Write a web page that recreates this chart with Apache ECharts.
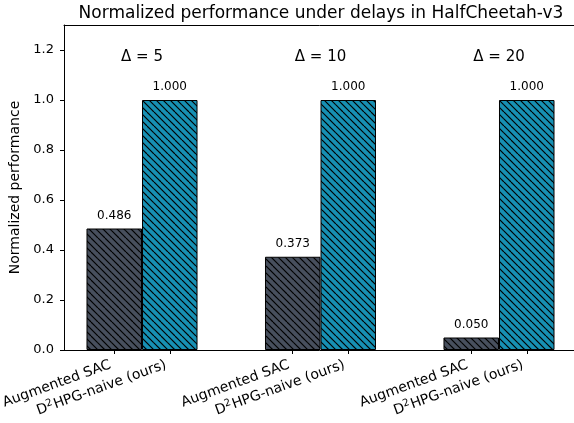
<!DOCTYPE html>
<html>
<head>
<meta charset="utf-8">
<script src="https://cdn.jsdelivr.net/npm/echarts@6/dist/echarts.min.js"></script>
<style>
  html, body { margin: 0; padding: 0; background: #fff; }
  #chart { width: 574px; height: 423px; }
</style>
</head>
<body>
<div id="chart"></div>
<script>
// Delay settings (one group per delay) and the two methods compared
const deltas = [5, 10, 20];
const methods = ['Augmented SAC', 'D2HPG-naive (ours)'];
const sacValues = [0.486, 0.373, 0.050];
const d2hpgValues = [1.000, 1.000, 1.000];
const yTicks = [0.0, 0.2, 0.4, 0.6, 0.8, 1.0, 1.2];

const FONT = 'DejaVu Sans';
const X_MIN = -0.437, X_MAX = 2.437;
const BAR_W = 0.311;            // bar width in x units
const GRID = { left: 64, right: -3, top: 25, bottom: 73 };
const plotWidth = 574 - GRID.left - GRID.right;
const pxPerUnit = plotWidth / (X_MAX - X_MIN);

// Hatched fill: base colour with "\\" diagonal black strokes
function hatch(base) {
  const step = 7, size = 14;
  const c = document.createElement('canvas');
  c.width = size; c.height = size;
  const g = c.getContext('2d');
  g.fillStyle = base;
  g.fillRect(0, 0, size, size);
  g.strokeStyle = '#000';
  g.lineWidth = 1.2;
  for (let k = -2 * size; k <= 2 * size; k += step) {
    g.beginPath();
    g.moveTo(k, 0);
    g.lineTo(k + size, size);
    g.stroke();
  }
  return { image: c, repeat: 'repeat' };
}

// Tick positions at the centre of every bar
const tickPos = [];
const tickNames = [];
deltas.forEach((d, i) => {
  tickPos.push(i - BAR_W / 2); tickNames.push(methods[0]);
  tickPos.push(i + BAR_W / 2); tickNames.push(methods[1]);
});

function tickLabel(v) {
  let best = 0;
  tickPos.forEach((p, i) => { if (Math.abs(p - v) < Math.abs(tickPos[best] - v)) best = i; });
  const name = tickNames[best];
  if (name.startsWith('D2')) return '{n|D}{sup|2}{e|' + name.slice(2) + '}';
  return '{e|' + name + '}';
}

function barSeries(name, values, color) {
  return {
    name: name,
    type: 'bar',
    barWidth: BAR_W * pxPerUnit,
    barGap: '0%',
    data: values.map((v, i) => [i, v]),
    itemStyle: { color: hatch(color), borderColor: '#000', borderWidth: 1 },
    label: {
      show: true, position: 'top', distance: 7,
      fontFamily: FONT, fontSize: 12, color: '#000',
      formatter: p => p.value[1].toFixed(3)
    },
    emphasis: { disabled: true }
  };
}

const chart = echarts.init(document.getElementById('chart'), null, { renderer: 'canvas' });
chart.setOption({
  animation: false,
  backgroundColor: '#fff',
  textStyle: { fontFamily: FONT },
  title: {
    text: 'Normalized performance under delays in HalfCheetah-v3',
    left: 316, top: 0, textAlign: 'center',
    textStyle: { fontFamily: FONT, fontSize: 17, fontWeight: 'normal', color: '#000' }
  },
  grid: Object.assign({ containLabel: false, outerBoundsMode: 'none' }, GRID),
  xAxis: [{
    type: 'value', min: X_MIN, max: X_MAX,
    axisLine: { show: true, onZero: false, lineStyle: { color: '#000', width: 1 } },
    axisTick: { show: true, length: 4, lineStyle: { color: '#000' }, customValues: tickPos },
    splitLine: { show: false },
    axisLabel: {
      customValues: tickPos,
      rotate: 20, margin: 13,
      formatter: tickLabel,
      rich: {
        n: { fontFamily: FONT, fontSize: 14, color: '#000' },
        e: { fontFamily: FONT, fontSize: 14, color: '#000', padding: [0, 4, 0, 0] },
        sup: { fontFamily: FONT, fontSize: 10, color: '#000', verticalAlign: 'top', padding: [0, 1, 7, 0] }
      }
    }
  }, {
    type: 'value', position: 'top', min: X_MIN, max: X_MAX,
    axisLine: { show: true, onZero: false, lineStyle: { color: '#000', width: 1 } },
    axisTick: { show: false }, axisLabel: { show: false }, splitLine: { show: false }
  }],
  yAxis: {
    type: 'value', min: 0, max: 1.3,
    name: 'Normalized performance', nameLocation: 'middle', nameGap: 40, nameRotate: 90,
    nameTextStyle: { fontFamily: FONT, fontSize: 14, color: '#000' },
    axisLine: { show: true, onZero: false, lineStyle: { color: '#000', width: 1 } },
    axisTick: { show: true, length: 4, lineStyle: { color: '#000' }, customValues: yTicks },
    splitLine: { show: false },
    axisLabel: {
      customValues: yTicks, margin: 10,
      fontFamily: FONT, fontSize: 13, color: '#000',
      formatter: v => v.toFixed(1)
    }
  },
  series: [
    barSeries(methods[0], sacValues, '#474f5d'),
    barSeries(methods[1], d2hpgValues, '#1790b3'),
    {
      type: 'scatter',
      symbolSize: 0,
      itemStyle: { opacity: 1 },
      data: deltas.map((d, i) => [i, 1.17]),
      label: {
        show: true, position: 'inside',
        fontFamily: FONT, fontSize: 15, color: '#000',
        formatter: p => '\u0394 = ' + deltas[p.dataIndex]
      },
      emphasis: { disabled: true },
      silent: true
    }
  ]
});
</script>
</body>
</html>
